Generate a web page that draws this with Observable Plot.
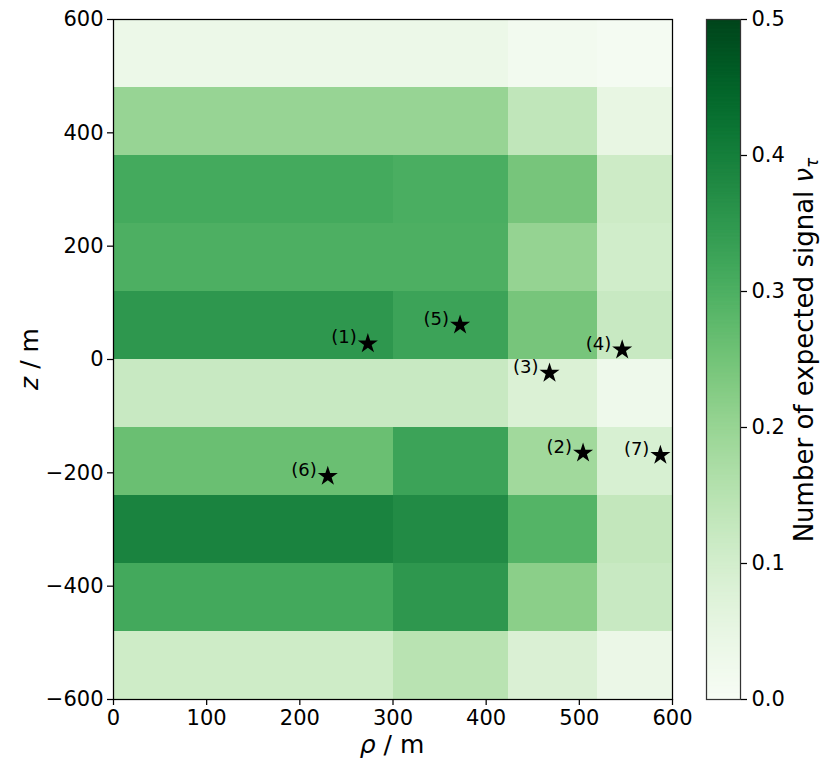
<!DOCTYPE html>
<html>
<head>
<meta charset="utf-8">
<script src="https://cdn.jsdelivr.net/npm/d3@7"></script>
<script src="https://cdn.jsdelivr.net/npm/@observablehq/plot@0.6"></script>
<style>
  html, body { margin: 0; padding: 0; background: #fff; }
  #wrap { position: relative; width: 830px; height: 774px; overflow: hidden; }
  #wrap svg { position: absolute; top: 0; }
</style>
</head>
<body>
<div id="wrap"></div>
<script>
// ---- data ----
const rhoEdges = [0, 300, 424.26, 519.62, 600];
const zEdges = [600, 480, 360, 240, 120, 0, -120, -240, -360, -480, -600];
// rows top (z 480..600) to bottom (z -600..-480); columns follow rhoEdges
const row1 = [0.038, 0.038, 0.018, 0.010];
const row2 = [0.200, 0.200, 0.135, 0.050];
const row3 = [0.313, 0.304, 0.245, 0.112];
const row4 = [0.300, 0.300, 0.203, 0.105];
const row5 = [0.352, 0.327, 0.245, 0.120];
const row6 = [0.120, 0.120, 0.083, 0.030];
const row7 = [0.262, 0.327, 0.185, 0.090];
const row8 = [0.391, 0.375, 0.290, 0.130];
const row9 = [0.315, 0.352, 0.218, 0.120];
const row10 = [0.110, 0.148, 0.085, 0.040];
const signalRows = [row1, row2, row3, row4, row5, row6, row7, row8, row9, row10];

const starNames = ["(1)", "(2)", "(3)", "(4)", "(5)", "(6)", "(7)"];
const starRho = [273, 504, 468, 546, 372, 230, 587];
const starZ = [28, -165, -24, 17, 61, -206, -169];

const xTicks = [0, 100, 200, 300, 400, 500, 600];
const yTicks = [-600, -400, -200, 0, 200, 400, 600];
const cbTicks = [0, 0.1, 0.2, 0.3, 0.4, 0.5];
const cbDomain = [0, 0.5];

// ---- tables ----
const cells = [];
signalRows.forEach((row, i) => {
  row.forEach((v, j) => {
    cells.push({x1: rhoEdges[j], x2: rhoEdges[j + 1], y1: zEdges[i + 1], y2: zEdges[i], v});
  });
});
const stars = starNames.map((n, i) => ({name: n, rho: starRho[i], z: starZ[i]}));

const font = "DejaVu Sans, sans-serif";
const colorOpt = {type: "linear", scheme: "greens", domain: cbDomain};

// ---- main heatmap ----
const main = Plot.plot({
  width: 700, height: 774,
  marginLeft: 113, marginTop: 19, marginRight: 28, marginBottom: 75,
  style: {fontFamily: font, fontSize: "21px", color: "black", background: "white"},
  x: {domain: [0, 600]},
  y: {domain: [-600, 600]},
  color: colorOpt,
  marks: [
    Plot.rect(cells, {x1: "x1", x2: "x2", y1: "y1", y2: "y2", fill: "v", inset: 0, shapeRendering: "crispEdges"}),
    Plot.dot(stars, {x: "rho", y: "z", symbol: "star", r: 6.3, fill: "black", stroke: "none"}),
    Plot.text(stars, {x: "rho", y: "z", text: "name", textAnchor: "end", dx: -11, dy: -6, fontSize: 18, fill: "black"}),
    Plot.frame({stroke: "black", strokeWidth: 1.25}),
    Plot.axisX({ticks: xTicks, tickSize: 6, tickPadding: 5, label: null, strokeWidth: 1.25}),
    Plot.axisY({ticks: yTicks, tickSize: 6, tickPadding: 4, label: null, strokeWidth: 1.25})
  ]
});
main.style.left = "0px";

// ---- colorbar ----
const step = 0.001;
const cbSteps = d3.range(0, 0.5, step);
const cbar = Plot.plot({
  width: 140, height: 774,
  marginLeft: 16, marginRight: 90, marginTop: 19, marginBottom: 75,
  style: {fontFamily: font, fontSize: "21px", color: "black", background: "transparent"},
  x: {domain: [0, 1], axis: null},
  y: {domain: cbDomain},
  color: colorOpt,
  marks: [
    Plot.rect(cbSteps, {x1: 0, x2: 1, y1: d => d, y2: d => Math.min(0.5, d + step * 1.6), fill: d => d + step / 2, inset: 0}),
    Plot.frame({stroke: "#333", strokeWidth: 1.25}),
    Plot.axisY({anchor: "right", ticks: cbTicks, tickFormat: d3.format(".1f"), tickSize: 6, tickPadding: 5, label: null, strokeWidth: 1.25})
  ]
});
cbar.style.left = "690px";

const wrap = document.getElementById("wrap");
wrap.appendChild(main);
wrap.appendChild(cbar);

// ---- axis titles (mixed italic) ----
const ms = d3.select(main);
const xl = ms.append("text")
  .attr("x", 392).attr("y", 753)
  .attr("text-anchor", "middle")
  .attr("font-family", font).attr("font-size", 25).attr("fill", "black");
xl.append("tspan").attr("font-style", "italic").text("ρ");
xl.append("tspan").text(" / m");

const yl = ms.append("text")
  .attr("transform", "translate(38,359) rotate(-90)")
  .attr("text-anchor", "middle")
  .attr("font-family", font).attr("font-size", 25).attr("fill", "black");
yl.append("tspan").attr("font-style", "italic").text("z");
yl.append("tspan").text(" / m");

const cs = d3.select(cbar);
const cl = cs.append("text")
  .attr("transform", "translate(123,350) rotate(-90)")
  .attr("text-anchor", "middle")
  .attr("font-family", font).attr("font-size", 26).attr("fill", "black");
cl.append("tspan").text("Number of expected signal ");
cl.append("tspan").attr("font-style", "italic").text("ν");
cl.append("tspan").attr("font-style", "italic").attr("font-size", 17).attr("dy", 5).text("τ");
</script>
</body>
</html>
